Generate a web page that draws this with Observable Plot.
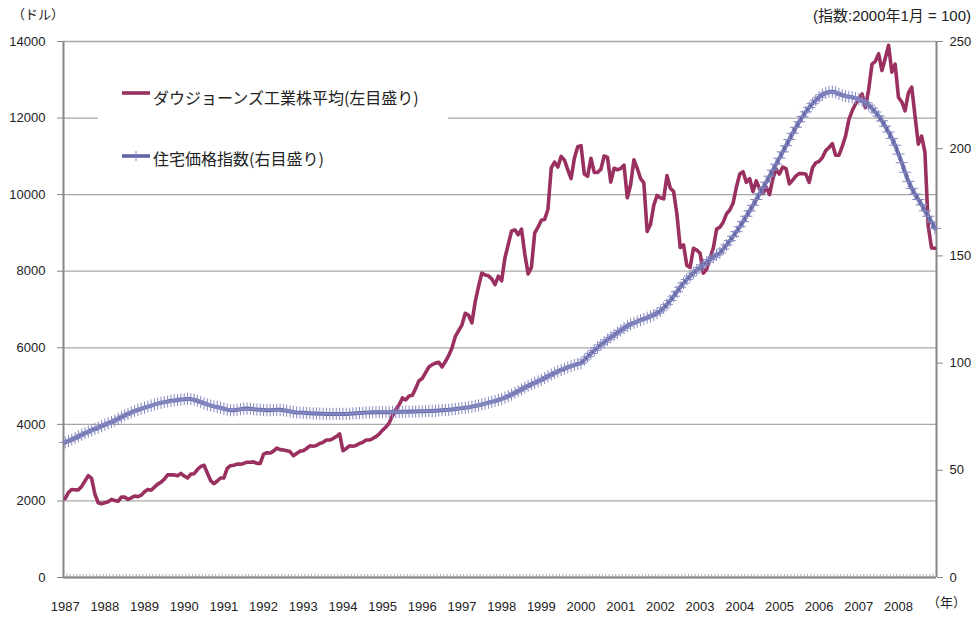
<!DOCTYPE html>
<html>
<head>
<meta charset="utf-8">
<script src="https://cdn.jsdelivr.net/npm/d3@7"></script>
<script src="https://cdn.jsdelivr.net/npm/@observablehq/plot@0.6"></script>
<style>
  body { margin: 0; background: #fff; }
  #wrap { position: relative; width: 975px; height: 617px; font-family: "Liberation Sans", Arial, "Noto Sans CJK JP", sans-serif; color: #222; }
  .unit { position: absolute; font-size: 13px; line-height: 1; white-space: nowrap; font-family: "Liberation Sans", "Noto Sans CJK JP", sans-serif; }
  #legend { position: absolute; left: 98px; top: 72px; width: 350px; height: 112px; background: #fff; }
  .lg { position: absolute; font-family: "Noto Sans CJK JP", sans-serif; font-size: 16px; line-height: 1; white-space: nowrap; color: #222; }
  .sw { position: absolute; }
</style>
</head>
<body>
<div id="wrap"></div>
<script>
// ---- data ----
const yearLabels = ["1987","1988","1989","1990","1991","1992","1993","1994","1995","1996","1997",
                    "1998","1999","2000","2001","2002","2003","2004","2005","2006","2007","2008"];
const leftTicks = [0, 2000, 4000, 6000, 8000, 10000, 12000, 14000];
const rightTicks = [0, 50, 100, 150, 200, 250];
const seriesNames = ["ダウジョーンズ工業株平均(左目盛り)", "住宅価格指数(右目盛り)"];

// Dow Jones Industrial Average, monthly (dollars), Jan 1987 - Dec 2008
const dow = [
  2060,2220,2300,2290,2290,2380,2520,2660,2590,2180,1950,1925,
  1950,1980,2040,2010,1990,2100,2100,2040,2080,2130,2110,2150,
  2240,2300,2280,2360,2440,2490,2570,2680,2680,2680,2660,2720,
  2650,2600,2700,2710,2820,2900,2930,2730,2530,2450,2520,2600,
  2600,2850,2920,2930,2960,2960,2980,3010,3010,3020,2980,2980,
  3220,3260,3250,3300,3380,3340,3330,3310,3290,3180,3240,3300,
  3310,3370,3440,3430,3450,3500,3530,3590,3590,3630,3680,3750,
  3310,3370,3440,3430,3450,3500,3530,3590,3590,3630,3680,3750,
  3850,3930,4040,4230,4390,4510,4690,4640,4740,4760,4940,5140,
  5200,5350,5500,5560,5600,5620,5500,5640,5800,6000,6300,6450,
  6600,6900,6850,6650,7200,7600,7950,7900,7880,7800,7650,7870,
  7750,8350,8700,9050,9080,8950,9100,8450,7930,8100,9000,9150,
  9330,9350,9620,10700,10850,10720,11000,10900,10650,10420,10950,11250,
  11280,10540,10480,10950,10580,10580,10660,11010,10970,10330,10690,10650,
  10680,10770,9920,10260,10910,10690,10420,10310,9040,9220,9720,9980,
  9920,9890,10500,10170,10080,9490,8620,8690,8150,8100,8600,8550,
  8470,7950,8050,8350,8600,9100,9150,9280,9500,9600,9780,10200,
  10540,10600,10320,10420,10080,10360,10150,10030,10200,10000,10410,10670,
  10540,10720,10680,10280,10380,10490,10550,10550,10530,10320,10700,10830,
  10870,10970,11150,11230,11330,11030,11030,11260,11530,11960,12190,12370,
  12510,12630,12270,12750,13410,13480,13680,13240,13560,13900,13200,13410,
  12540,12420,12190,12660,12810,12060,11320,11530,11110,9180,8610,8600
];

// House price index (2000 Jan = 100), monthly, Jan 1987 - Dec 2008
const hpi = [
  63.0,63.6,64.3,65.0,65.8,66.6,67.3,68.0,68.6,69.3,69.9,70.6,
  71.3,71.9,72.5,73.2,74.0,74.8,75.6,76.3,77.0,77.6,78.2,78.7,
  79.2,79.7,80.2,80.7,81.1,81.5,81.8,82.1,82.4,82.6,82.8,83.0,
  83.1,83.3,83.2,82.9,82.4,81.8,81.2,80.7,80.2,79.8,79.5,79.1,
  78.7,78.3,78.0,78.0,78.2,78.5,78.7,78.8,78.7,78.5,78.3,78.2,
  78.1,78.0,78.0,78.1,78.2,78.2,78.0,77.8,77.5,77.2,77.0,76.9,
  76.8,76.7,76.6,76.5,76.5,76.4,76.4,76.3,76.3,76.3,76.3,76.3,
  76.3,76.3,76.4,76.5,76.6,76.7,76.8,76.9,77.0,77.1,77.1,77.1,
  77.1,77.1,77.1,77.2,77.2,77.2,77.3,77.3,77.3,77.4,77.4,77.5,
  77.6,77.6,77.7,77.7,77.8,77.9,78.0,78.1,78.2,78.4,78.6,78.8,
  79.0,79.2,79.4,79.7,80.0,80.3,80.7,81.1,81.5,81.9,82.3,82.8,
  83.3,83.9,84.6,85.3,86.1,86.9,87.7,88.6,89.4,90.1,90.8,91.5,
  92.2,93.0,93.8,94.6,95.4,96.1,96.8,97.4,98.0,98.6,99.1,99.6,
  100.0,101.5,103.0,104.5,105.9,107.2,108.5,109.7,110.9,112.0,113.1,114.2,
  115.2,116.3,117.3,118.1,118.8,119.4,120.0,120.6,121.2,121.8,122.5,123.3,
  124.4,125.8,127.4,129.2,131.2,133.3,135.4,137.3,139.0,140.6,142.0,143.4,
  144.7,145.9,147.1,148.3,149.4,150.4,151.4,153.2,155.1,157.1,159.1,161.3,
  163.6,166.0,168.5,171.0,173.6,176.3,179.0,181.7,184.4,187.2,190.0,192.8,
  195.6,198.5,201.4,204.3,207.2,210.0,212.6,215.0,217.2,219.2,221.0,222.6,
  224.0,225.2,226.0,226.5,226.6,226.3,225.6,224.9,224.5,224.2,224.0,223.6,
  223.1,222.4,221.5,220.3,218.8,217.1,215.2,213.0,210.5,207.8,204.8,201.6,
  197.5,193.5,189.0,184.8,181.5,178.8,176.3,173.8,171.0,168.5,165.8,162.8
];

// ---- chart ----
const W = 975, H = 617, mL = 63, mR = 39, mT = 41, mB = 40;
const nMonths = dow.length;
const K = leftTicks[leftTicks.length - 1] / rightTicks[rightTicks.length - 1]; // right-axis scaling
const dowData = dow.map((v, i) => ({x: i + 0.5, v}));
const hpiData = hpi.map((v, i) => ({x: i + 0.5, v: v * K}));
const yearPos = yearLabels.map((_, k) => k * 12 + 0.5);
const monthBounds = d3.range(0, nMonths + 1);
const axisColor = "#868686";

const chart = Plot.plot({
  width: W, height: H,
  marginLeft: mL, marginRight: mR, marginTop: mT, marginBottom: mB,
  style: {fontFamily: "'Liberation Sans', Arial, sans-serif", fontSize: "13px", color: "#222", background: "#fff", overflow: "visible"},
  x: {domain: [0, nMonths], axis: null},
  y: {domain: [0, 14000], axis: null},
  marks: [
    Plot.ruleY(leftTicks, {stroke: "#a8a8a8", strokeWidth: 1.3}),
    Plot.ruleX(monthBounds, {x: d => d, insetTop: H - mT - mB - 3, stroke: "#8c8c8c", strokeWidth: 0.7}),
    Plot.axisY({anchor: "left", label: null, ticks: leftTicks, tickSize: 6, tickPadding: 12, tickFormat: d => String(d), stroke: axisColor}),
    Plot.axisY({anchor: "right", label: null, ticks: rightTicks.map(v => v * K), tickSize: 6, tickPadding: 7, tickFormat: d => String(Math.round(d / K)), stroke: axisColor}),
    Plot.axisX({label: null, ticks: yearPos, tickSize: 0, tickPadding: 24, tickFormat: d => yearLabels[Math.round((d - 0.5) / 12)]}),
    Plot.ruleX([0, nMonths], {stroke: axisColor, strokeWidth: 2}),
    Plot.ruleY([0], {stroke: axisColor, strokeWidth: 2}),
    Plot.line(dowData, {x: "x", y: "v", stroke: "#9a3060", strokeWidth: 3.6}),
    Plot.line(hpiData, {x: "x", y: "v", stroke: "#6264a4", strokeWidth: 4}),
    Plot.dot(hpiData, {x: "x", y: "v", symbol: "plus", r: 4, stroke: "#8688c2", strokeWidth: 1})
  ]
});

const wrap = document.getElementById("wrap");
wrap.appendChild(chart);

function addDiv(cls, text, css) {
  const d = document.createElement("div");
  d.className = cls;
  d.textContent = text;
  Object.assign(d.style, css);
  wrap.appendChild(d);
  return d;
}
addDiv("unit", "（ドル）", {left: "12px", top: "8px"});
addDiv("unit", "(指数:2000年1月 = 100)", {right: "4px", top: "8px", fontSize: "15px"});
addDiv("unit", "（年）", {left: "927px", top: "596px"});

// legend
const legend = document.createElement("div");
legend.id = "legend";
wrap.appendChild(legend);
function swatch(top, color, plus) {
  const s = document.createElementNS("http://www.w3.org/2000/svg", "svg");
  s.setAttribute("class", "sw");
  s.setAttribute("width", "30"); s.setAttribute("height", "14");
  s.style.left = (121 - 98) + "px"; s.style.top = top + "px";
  s.innerHTML = `<line x1="1" x2="29" y1="7" y2="7" stroke="${color}" stroke-width="3.6"/>` +
    (plus ? `<line x1="15" x2="15" y1="2" y2="12" stroke="#8688c2" stroke-width="1"/>` : "");
  legend.appendChild(s);
}
swatch(93 - 72 - 7, "#9a3060", false);
swatch(156 - 72 - 7, "#6264a4", true);
const t1 = document.createElement("div"); t1.className = "lg"; t1.textContent = seriesNames[0];
t1.style.left = (153 - 98) + "px"; t1.style.top = (89 - 72) + "px"; legend.appendChild(t1);
const t2 = document.createElement("div"); t2.className = "lg"; t2.textContent = seriesNames[1];
t2.style.left = (153 - 98) + "px"; t2.style.top = (150 - 72) + "px"; legend.appendChild(t2);
</script>
</body>
</html>
